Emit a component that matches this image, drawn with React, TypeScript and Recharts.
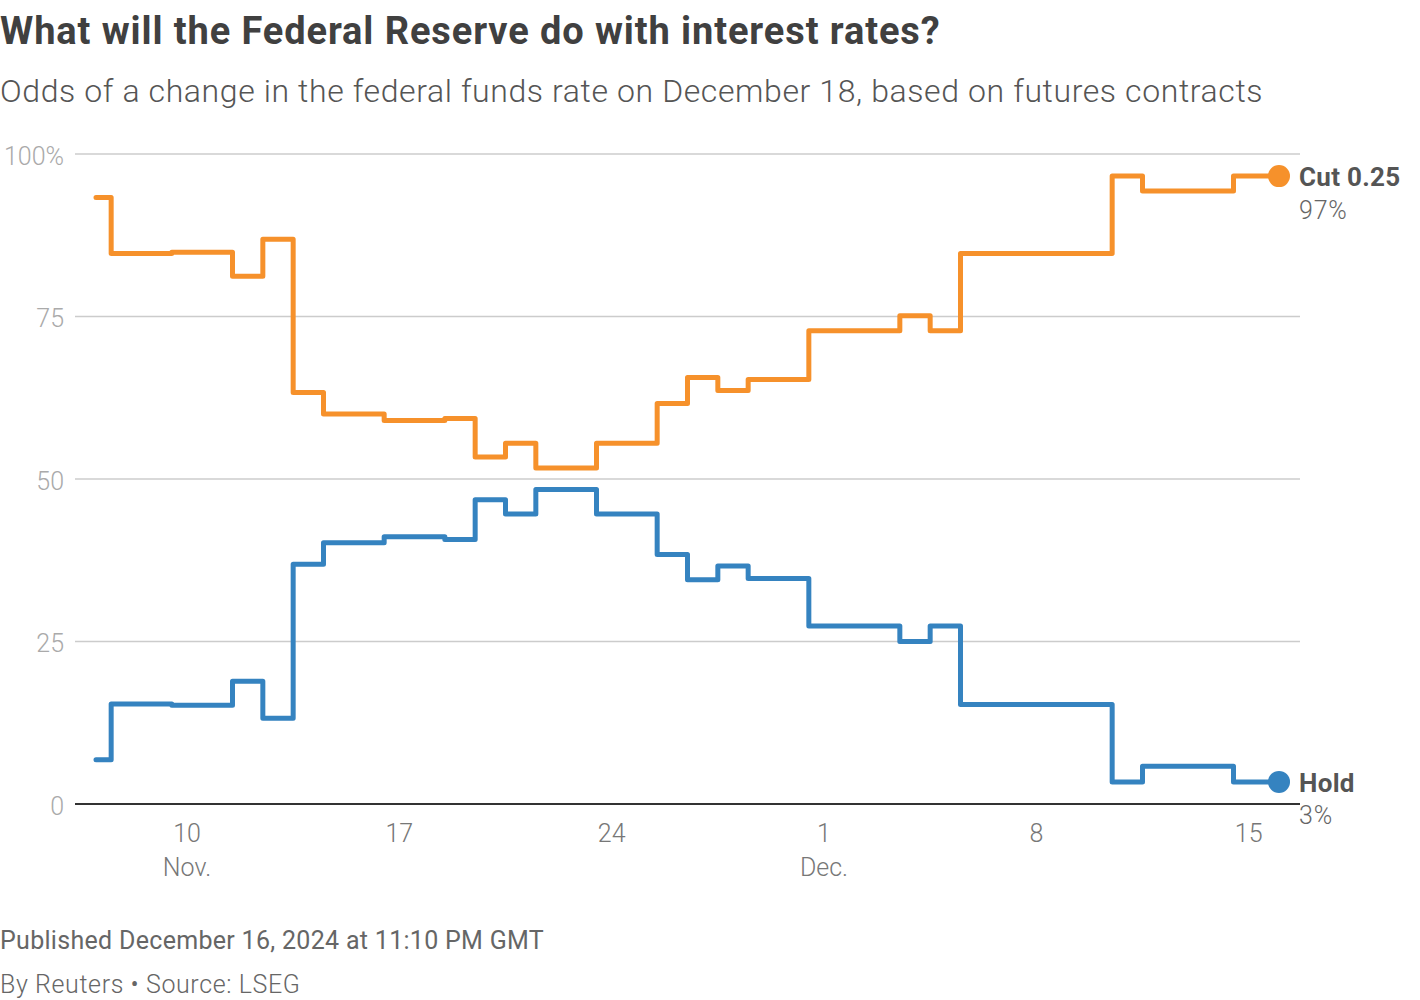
import { LineChart, Line, XAxis, YAxis, CartesianGrid } from "recharts";

// days counted from Nov. 7, 2024 (0) to Dec. 16, 2024 (39)
const days = [
  0, 1, 2, 3, 4, 5, 6, 7, 8, 9, 10, 11, 12, 13, 14, 15, 16, 17, 18, 19,
  20, 21, 22, 23, 24, 25, 26, 27, 28, 29, 30, 31, 32, 33, 34, 35, 36, 37, 38, 39,
];

const cutOdds = [
  93.3, 84.7, 84.7, 84.9, 84.9, 81.2, 86.9, 63.3, 60.0, 60.0,
  59.0, 59.0, 59.3, 53.4, 55.5, 51.7, 51.7, 55.5, 55.5, 61.6,
  65.6, 63.6, 65.3, 65.3, 72.8, 72.8, 72.8, 75.1, 72.8, 84.7,
  84.7, 84.7, 84.7, 84.7, 96.6, 94.3, 94.3, 94.3, 96.6, 96.6,
];

const holdOdds = [
  6.8, 15.4, 15.4, 15.2, 15.2, 18.9, 13.2, 36.9, 40.2, 40.2,
  41.1, 41.1, 40.7, 46.8, 44.6, 48.4, 48.4, 44.6, 44.6, 38.4,
  34.5, 36.6, 34.7, 34.7, 27.4, 27.4, 27.4, 25.0, 27.4, 15.3,
  15.3, 15.3, 15.3, 15.3, 3.4, 5.8, 5.8, 5.8, 3.4, 3.4,
];

const xTicks = [3, 10, 17, 24, 31, 38];
const xTickLabels = ["10", "17", "24", "1", "8", "15"];
const xMonthLabels = ["Nov.", "", "", "Dec.", "", ""];
const yTicks = [0, 25, 50, 75, 100];

const ORANGE = "#f6912b";
const BLUE = "#3583c0";
const FONT = "Roboto, 'Noto Sans', sans-serif";

const data = days.map((d, i) => ({ day: d, cut: cutOdds[i], hold: holdOdds[i] }));
const lastIndex = data.length - 1;

function XTick({ x, y, payload }: any) {
  const i = xTicks.indexOf(payload.value);
  return (
    <g>
      <text x={x} y={y + 29} textAnchor="middle" dominantBaseline="central"
        fontFamily={FONT} fontWeight={300} fontSize={25} fill="#777">
        {xTickLabels[i]}
      </text>
      {xMonthLabels[i] && (
        <text x={x} y={y + 63} textAnchor="middle" dominantBaseline="central"
          fontFamily={FONT} fontWeight={300} fontSize={25} fill="#777">
          {xMonthLabels[i]}
        </text>
      )}
    </g>
  );
}

function YTick({ x, y, payload }: any) {
  return (
    <text x={x - 11} y={y + 2} textAnchor="end" dominantBaseline="central"
      fontFamily={FONT} fontWeight={300} fontSize={25} fill="#aaa">
      {payload.value === 100 ? "100%" : payload.value}
    </text>
  );
}

function endDot(color: string, name: string) {
  return (props: any) => {
    const { cx, cy, index, value } = props;
    if (index !== lastIndex) return <g key={`d-${name}-${index}`} />;
    return (
      <g key={`d-${name}-${index}`}>
        <circle cx={cx} cy={cy} r={11} fill={color} />
        <text x={cx + 20} y={cy + 1} dominantBaseline="central"
          fontFamily={FONT} fontWeight={700} fontSize={26} fill="#555" letterSpacing={0.3}>
          {name}
        </text>
        <text x={cx + 20} y={cy + 34} dominantBaseline="central"
          fontFamily={FONT} fontWeight={300} fontSize={25} fill="#666" letterSpacing={0.8}>
          {Math.round(value)}%
        </text>
      </g>
    );
  };
}

export default function App() {
  return (
    <div style={{ position: "absolute", left: 0, top: 0, width: 1420, height: 1000, background: "#fff", fontFamily: FONT }}>
      <div style={{ position: "absolute", left: 0, top: 11, fontSize: 38, fontWeight: 700, color: "#404040", lineHeight: "40px", whiteSpace: "nowrap", letterSpacing: 0.9 }}>
        What will the Federal Reserve do with interest rates?
      </div>
      <div style={{ position: "absolute", left: 0, top: 71, fontSize: 32, fontWeight: 300, color: "#555", lineHeight: "40px", whiteSpace: "nowrap", letterSpacing: 0.6 }}>
        Odds of a change in the federal funds rate on December 18, based on futures contracts
      </div>

      <div style={{ position: "absolute", left: 0, top: 0 }}>
        <LineChart width={1420} height={900} data={data}
          margin={{ top: 154, right: 120, bottom: 36, left: 0 }}>
          <CartesianGrid vertical={false} stroke="#cccccc" strokeWidth={1.5} />
          <XAxis dataKey="day" type="number" domain={[0, 39]} ticks={xTicks}
            padding={{ left: 21, right: 21 }} height={60}
            tickLine={false} tickSize={0} tickMargin={0}
            axisLine={{ stroke: "#333", strokeWidth: 2 }} tick={<XTick />} />
          <YAxis type="number" domain={[0, 100]} ticks={yTicks} width={75}
            tickLine={false} tickSize={0} tickMargin={0} axisLine={false}
            tick={<YTick />} />
          <Line type="step" dataKey="cut" stroke={ORANGE} strokeWidth={5}
            strokeLinecap="round" strokeLinejoin="round"
            dot={endDot(ORANGE, "Cut 0.25")} activeDot={false} isAnimationActive={false} />
          <Line type="step" dataKey="hold" stroke={BLUE} strokeWidth={5}
            strokeLinecap="round" strokeLinejoin="round"
            dot={endDot(BLUE, "Hold")} activeDot={false} isAnimationActive={false} />
        </LineChart>
      </div>

      <div style={{ position: "absolute", left: 0, top: 926, fontSize: 25, fontWeight: 400, color: "#666", lineHeight: "30px", whiteSpace: "nowrap", letterSpacing: 0.3 }}>
        Published December 16, 2024 at 11:10 PM GMT
      </div>
      <div style={{ position: "absolute", left: 0, top: 970, fontSize: 25, fontWeight: 300, color: "#666", lineHeight: "30px", whiteSpace: "nowrap", letterSpacing: 0.6 }}>
        By Reuters • Source: LSEG
      </div>
    </div>
  );
}
